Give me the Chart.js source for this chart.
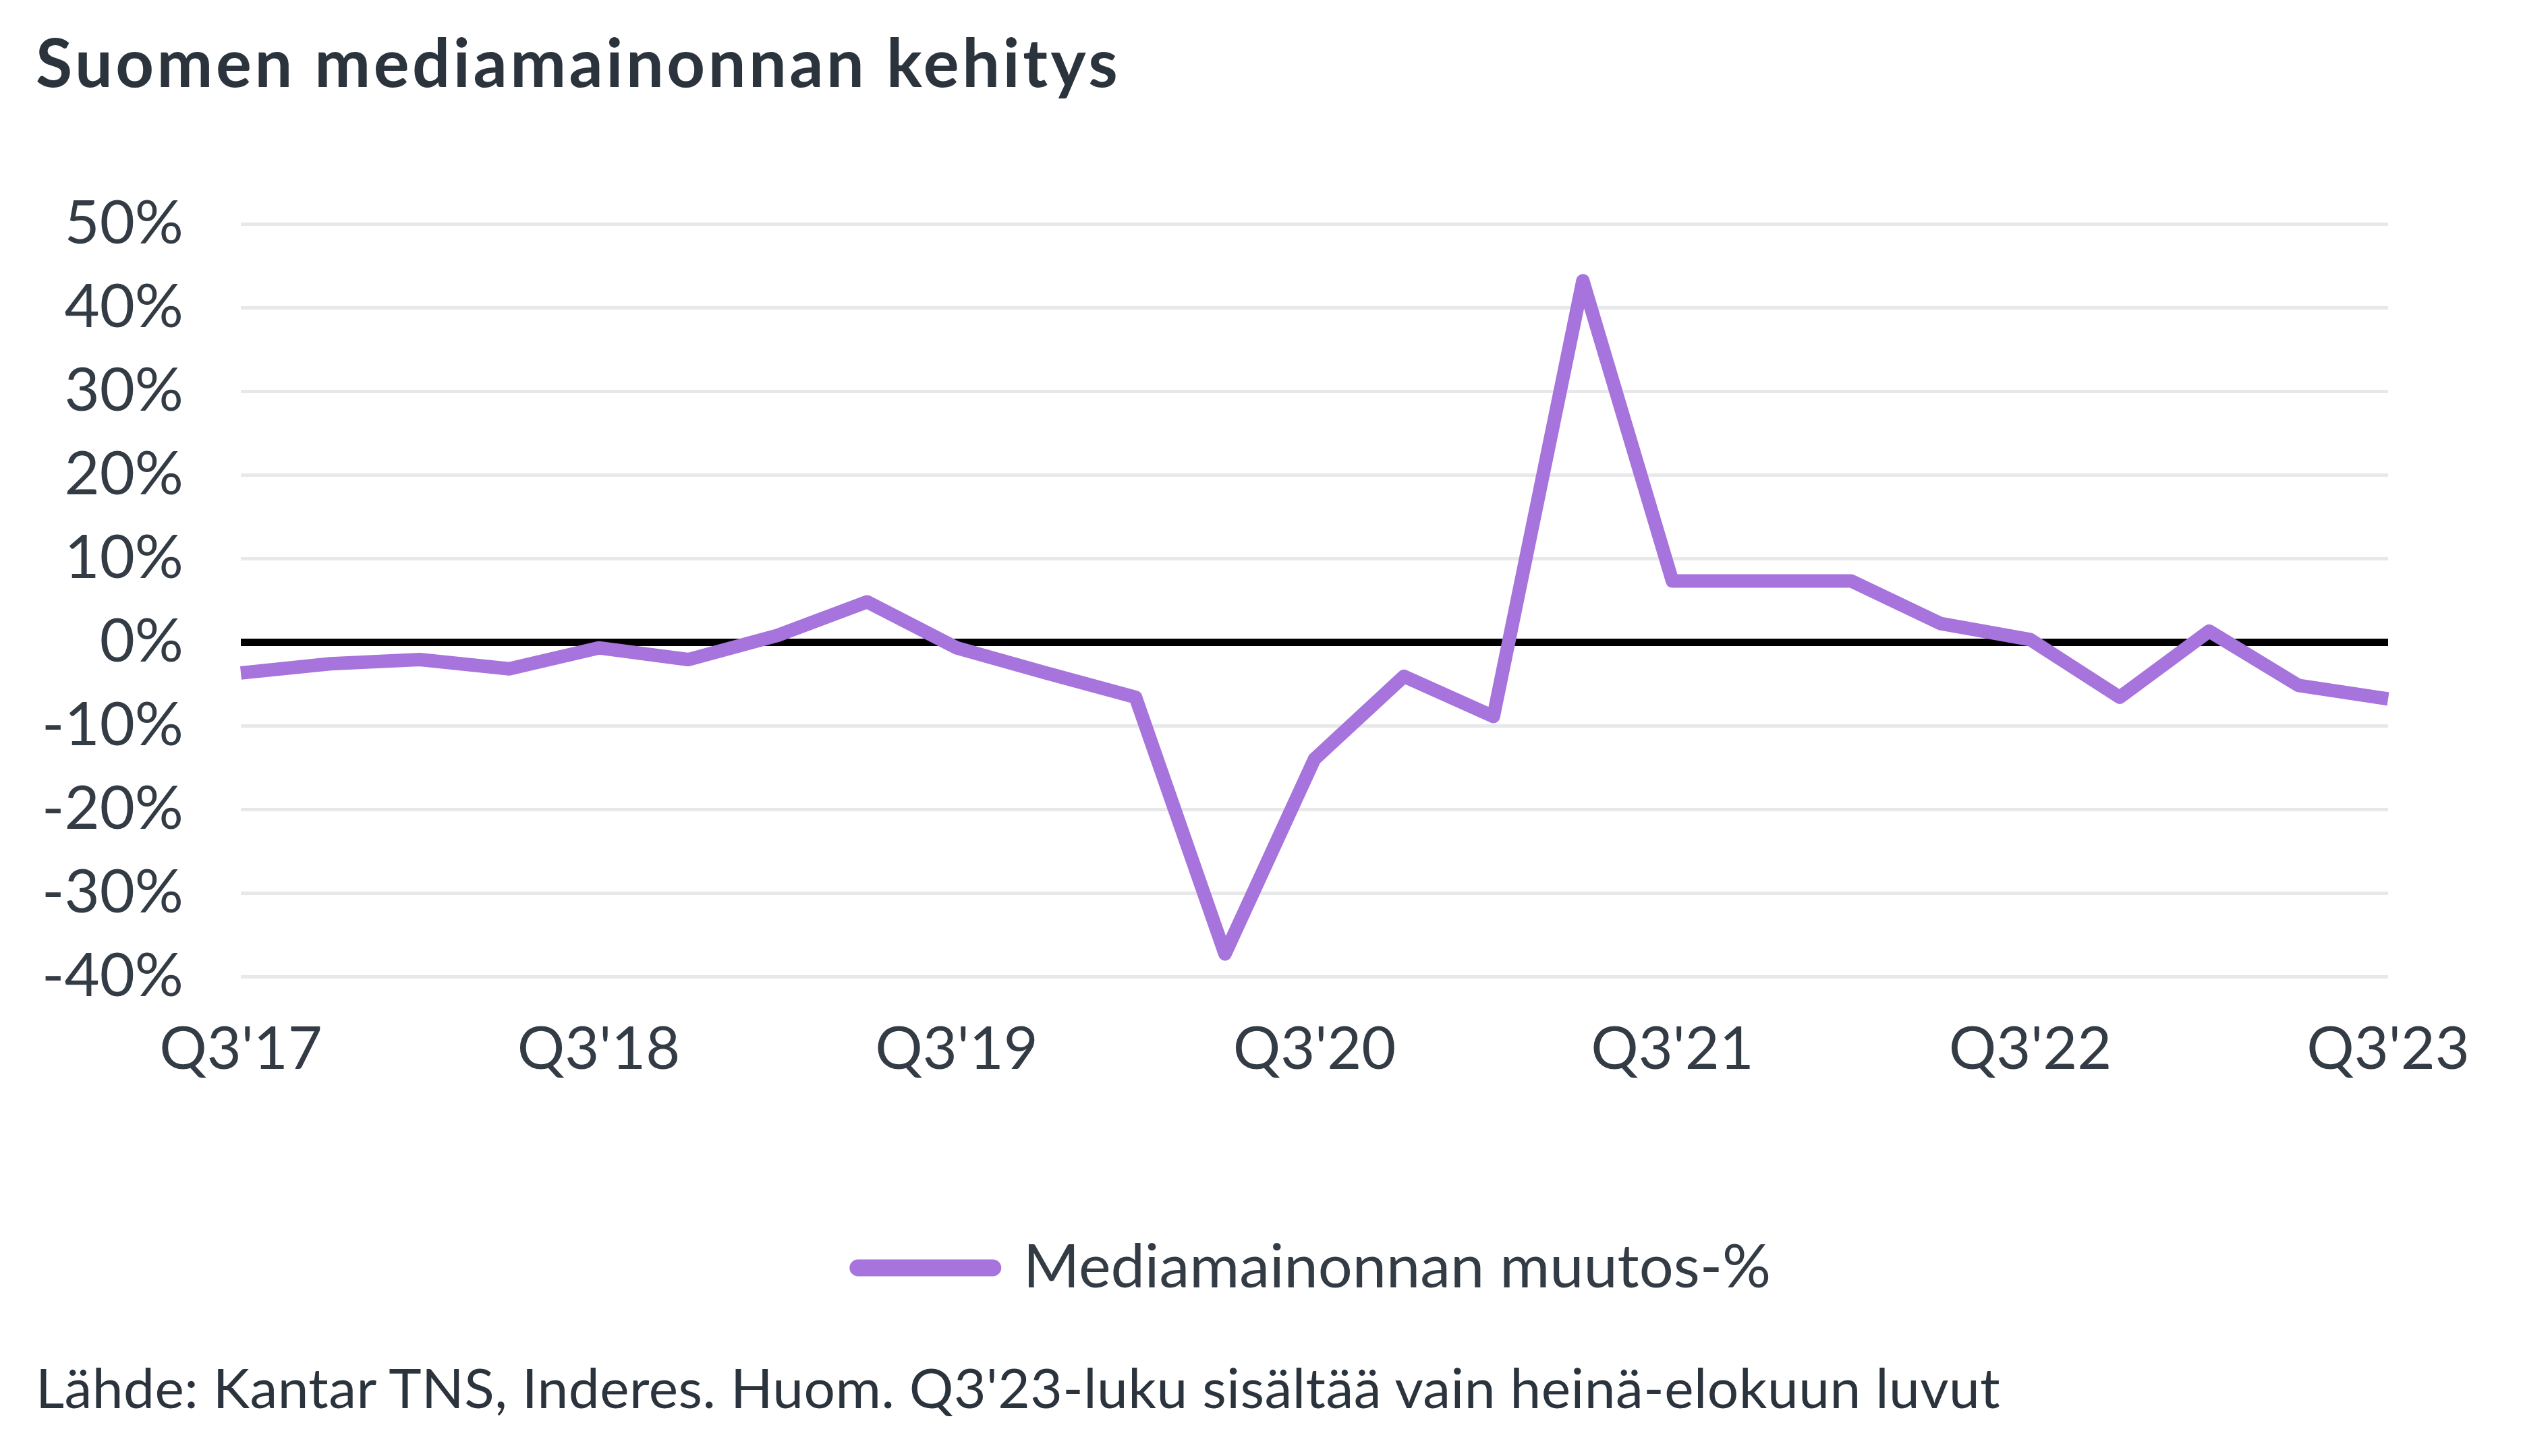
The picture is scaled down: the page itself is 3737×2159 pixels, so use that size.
<!DOCTYPE html>
<html>
<head>
<meta charset="utf-8">
<script src="https://cdn.jsdelivr.net/npm/chart.js@4"></script>
<style>
  html, body { margin: 0; padding: 0; background: #ffffff; }
  body { width: 3737px; height: 2159px; position: relative; overflow: hidden; font-family: Lato, "Noto Sans", sans-serif; }
  #title { position: absolute; left: 53px; top: 41px; font-size: 99px; line-height: 1; font-weight: 700; color: #2b333d; white-space: nowrap; letter-spacing: 4.5px; }
  #note { position: absolute; left: 53px; top: 2015px; font-size: 82px; line-height: 1; font-weight: 400; color: #2b333d; white-space: nowrap; letter-spacing: 0.5px; }
  #wrap { position: absolute; left: 0; top: 0; width: 3737px; height: 2159px; }
</style>
</head>
<body>
<div id="wrap"><canvas id="c" width="3737" height="2159"></canvas></div>
<div id="title">Suomen mediamainonnan kehitys</div>
<div id="note">Lähde: Kantar TNS, Inderes. Huom. Q3'23-luku sisältää vain heinä-elokuun luvut</div>
<script>
const quarters = ["Q3'17","Q4'17","Q1'18","Q2'18","Q3'18","Q4'18","Q1'19","Q2'19","Q3'19","Q4'19","Q1'20","Q2'20","Q3'20","Q4'20","Q1'21","Q2'21","Q3'21","Q4'21","Q1'22","Q2'22","Q3'22","Q4'22","Q1'23","Q2'23","Q3'23"];
const changePct = [-3.7,-2.6,-2.1,-3.2,-0.7,-2.1,0.8,4.8,-0.7,-3.7,-6.6,-37.3,-14.0,-4.1,-8.9,43.2,7.3,7.3,7.3,2.2,0.3,-6.6,1.3,-5.2,-6.8];
const seriesName = "Mediamainonnan muutos-%";
const yMin = -40, yMax = 50, yStep = 10;

const purple = "rgb(167,115,220)";
const textColor = "#333b45";

new Chart(document.getElementById('c'), {
  type: 'line',
  data: {
    labels: quarters,
    datasets: [{
      label: seriesName,
      data: changePct,
      borderColor: purple,
      backgroundColor: purple,
      borderWidth: 20,
      borderJoinStyle: 'round',
      borderCapStyle: 'butt',
      pointRadius: 0,
      pointHoverRadius: 0,
      tension: 0,
      fill: false
    }]
  },
  options: {
    responsive: false,
    animation: false,
    devicePixelRatio: 1,
    layout: { padding: { left: 0, right: 197, top: 332, bottom: 224 } },
    plugins: {
      tooltip: { enabled: false },
      legend: {
        position: 'bottom',
        fullSize: false,
        labels: {
          usePointStyle: true,
          pointStyle: 'line',
          pointStyleWidth: 200,
          padding: 20,
          color: textColor,
          font: { family: 'Lato', size: 90 },
          generateLabels: (chart) => chart.data.datasets.map((ds, i) => ({
            text: ds.label,
            fillStyle: purple,
            strokeStyle: purple,
            lineWidth: 25,
            lineCap: 'round',
            pointStyle: 'line',
            hidden: false,
            datasetIndex: i,
            fontColor: textColor
          }))
        }
      }
    },
    scales: {
      x: {
        grid: { display: false, drawTicks: false },
        border: { display: false },
        ticks: {
          autoSkip: false,
          maxRotation: 0,
          padding: 56,
          color: textColor,
          font: { family: 'Lato', size: 88 },
          callback: function(v, i) { return i % 4 === 0 ? this.getLabelForValue(v) : ''; }
        },
        afterFit: (s) => { s.height = 367; }
      },
      y: {
        min: yMin, max: yMax,
        grid: {
          drawTicks: false,
          color: (ctx) => ctx.tick && ctx.tick.value === 0 ? '#000000' : '#e6e8ea',
          lineWidth: (ctx) => ctx.tick && ctx.tick.value === 0 ? 11 : 5
        },
        border: { display: false },
        ticks: {
          stepSize: yStep,
          padding: 85,
          color: textColor,
          font: { family: 'Lato', size: 90 },
          callback: (v) => v + '%'
        },
        afterFit: (s) => { s.width = 357; }
      }
    }
  }
});
</script>
</body>
</html>
